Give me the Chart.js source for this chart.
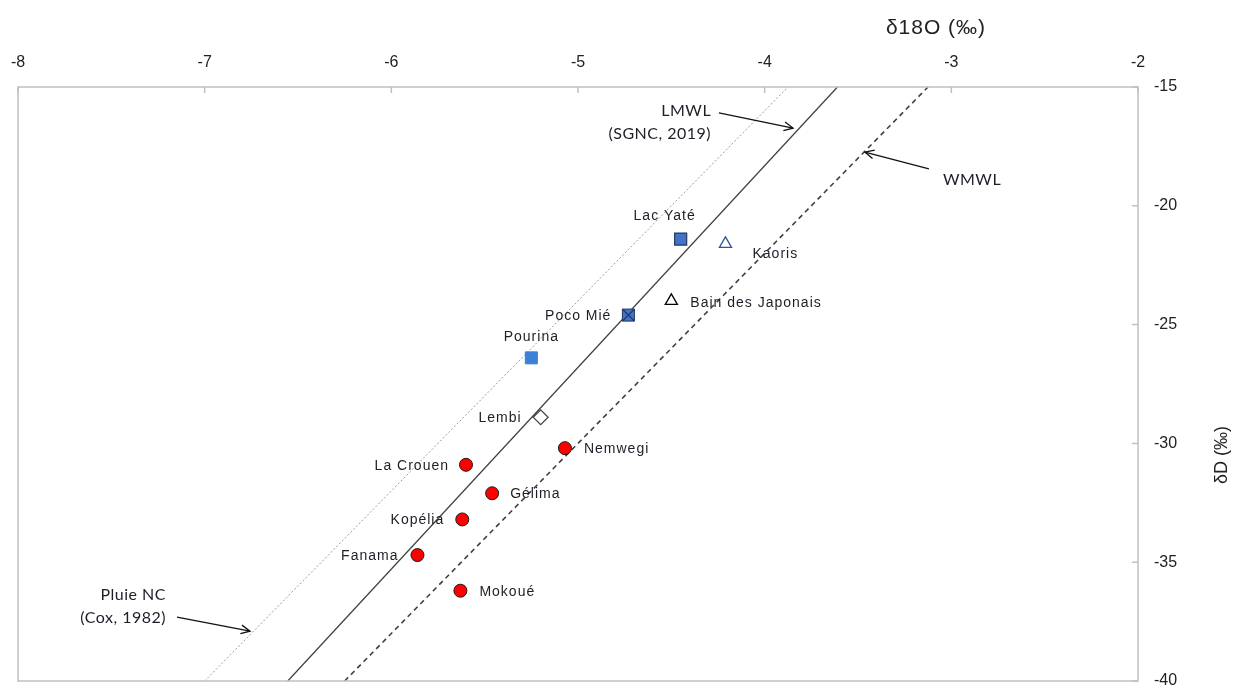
<!DOCTYPE html>
<html>
<head>
<meta charset="utf-8">
<script src="https://cdn.jsdelivr.net/npm/chart.js@4"></script>
<style>
  html, body { margin: 0; padding: 0; background: #ffffff; }
  #wrap { width: 1236px; height: 688px; position: relative; }
</style>
</head>
<body>
<div id="wrap"><canvas id="c" width="1236" height="688"></canvas></div>
<script>
// ---------------- DATA ----------------
const sites   = ['Lac Yaté', 'Kaoris', 'Bain des Japonais', 'Poco Mié', 'Pourina', 'Lembi',
                 'Nemwegi', 'La Crouen', 'Gélima', 'Kopélia', 'Fanama', 'Mokoué'];
const d18O    = [-4.45, -4.21, -4.50, -4.73, -5.25, -5.20, -5.07, -5.60, -5.46, -5.62, -5.86, -5.63];
const dD      = [-21.4, -21.6, -24.0, -24.6, -26.4, -28.9, -30.2, -30.9, -32.1, -33.2, -34.7, -36.2];
const markerGroup = ['lacYate', 'kaoris', 'bain', 'poco', 'pourina', 'lembi',
                     'spring', 'spring', 'spring', 'spring', 'spring', 'spring'];

// reference water lines: dD = slope * d18O + intercept
const lineNames      = ['Pluie NC (Cox, 1982)', 'LMWL (SGNC, 2019)', 'WMWL'];
const lineSlopes     = [8, 8.49, 8];
const lineIntercepts = [16, 15.65, 10];

const xTicks = [-8, -7, -6, -5, -4, -3, -2];
const yTicks = [-40, -35, -30, -25, -20, -15];

// ---------------- BUILD ----------------
const X_MIN = xTicks[0], X_MAX = xTicks[xTicks.length - 1];
const Y_MIN = yTicks[0], Y_MAX = yTicks[yTicks.length - 1];

function pts(group) {
  const out = [];
  sites.forEach((s, i) => { if (markerGroup[i] === group) out.push({ x: d18O[i], y: dD[i], name: s }); });
  return out;
}
function linePts(k) {
  const m = lineSlopes[k], b = lineIntercepts[k];
  return [{ x: (Y_MIN - b) / m, y: Y_MIN }, { x: (Y_MAX - b) / m, y: Y_MAX }];
}

const lineStyles = [
  { borderColor: '#9a9a9a', borderWidth: 1, borderDash: [2, 2] },
  { borderColor: '#404040', borderWidth: 1.3, borderDash: [] },
  { borderColor: '#404040', borderWidth: 1.6, borderDash: [5, 4] }
];

const datasets = [
  { label: 'crossPoco', data: pts('poco'), pointStyle: 'crossRot', pointRadius: 8.5, borderColor: '#1f3864', borderWidth: 1.3, backgroundColor: 'rgba(0,0,0,0)', order: 0 },
  { label: 'Poco Mié', data: pts('poco'), pointStyle: 'rect', pointRadius: 8.5, backgroundColor: '#4472c4', borderColor: '#1f3864', borderWidth: 1, order: 1 },
  { label: 'Lac Yaté', data: pts('lacYate'), pointStyle: 'rect', pointRadius: 8.5, backgroundColor: '#4472c4', borderColor: '#1f3864', borderWidth: 1.2, order: 1 },
  { label: 'Pourina', data: pts('pourina'), pointStyle: 'rect', pointRadius: 8.5, backgroundColor: '#3f7fd6', borderColor: '#3f7fd6', borderWidth: 1, order: 1 },
  { label: 'Kaoris', data: pts('kaoris'), pointStyle: 'triangle', pointRadius: 7, backgroundColor: '#ffffff', borderColor: '#2f5597', borderWidth: 1.3, order: 1 },
  { label: 'Bain', data: pts('bain'), pointStyle: 'triangle', pointRadius: 7, backgroundColor: '#ffffff', borderColor: '#000000', borderWidth: 1.3, order: 1 },
  { label: 'Lembi', data: pts('lembi'), pointStyle: 'rectRot', pointRadius: 7.5, backgroundColor: '#ffffff', borderColor: '#404040', borderWidth: 1.2, order: 1 },
  { label: 'Sources', data: pts('spring'), pointStyle: 'circle', pointRadius: 6.5, backgroundColor: '#ff0000', borderColor: '#1a1a1a', borderWidth: 1, order: 1 }
];
lineNames.forEach((n, k) => {
  datasets.push(Object.assign({
    type: 'line', label: n, data: linePts(k), showLine: true, pointRadius: 0, fill: false, order: 5
  }, lineStyles[k]));
});

// label placement (pixel offsets from point)
const labelPlacement = {
  'Lac Yaté': [-16, -23, 'center'],
  'Kaoris': [27, 10, 'left'],
  'Bain des Japonais': [19, 2, 'left'],
  'Poco Mié': [-18, 1, 'right'],
  'Pourina': [0, -21, 'center'],
  'Lembi': [-20, 1, 'right'],
  'Nemwegi': [19, 1, 'left'],
  'La Crouen': [-18, 1, 'right'],
  'Gélima': [18, 1, 'left'],
  'Kopélia': [-19, 1, 'right'],
  'Fanama': [-20, 1, 'right'],
  'Mokoué': [19, 1, 'left']
};

// annotations in data units
const annotations = [
  { lines: ['LMWL', '(SGNC, 2019)'], x: -4.287, y: -16.01, align: 'right', arrow: [-4.245, -16.09, -3.848, -16.73] },
  { lines: ['WMWL'], x: -3.045, y: -18.91, align: 'left', arrow: [-3.120, -18.45, -3.463, -17.74] },
  { lines: ['Pluie NC', '(Cox, 1982)'], x: -7.207, y: -36.38, align: 'right', arrow: [-7.148, -37.31, -6.757, -37.90] }
];

const decor = {
  id: 'decor',
  afterDraw(chart) {
    const ctx = chart.ctx, a = chart.chartArea;
    const xs = chart.scales.x, ys = chart.scales.y;
    ctx.save();
    // frame
    ctx.strokeStyle = '#c0c0c0';
    ctx.lineWidth = 1.5;
    ctx.strokeRect(a.left, a.top, a.right - a.left, a.bottom - a.top);
    // inward ticks
    ctx.beginPath();
    xTicks.forEach(v => { const px = xs.getPixelForValue(v); ctx.moveTo(px, a.top); ctx.lineTo(px, a.top + 6); });
    yTicks.forEach(v => { const py = ys.getPixelForValue(v); ctx.moveTo(a.right, py); ctx.lineTo(a.right - 6, py); });
    ctx.stroke();

    // y tick labels (right side)
    ctx.fillStyle = '#222';
    ctx.font = '16px "Liberation Sans", Arial, sans-serif';
    ctx.textAlign = 'left';
    ctx.textBaseline = 'middle';
    yTicks.forEach(v => ctx.fillText(String(v), a.right + 16, ys.getPixelForValue(v)));

    // axis titles
    ctx.textAlign = 'center';
    ctx.font = '21px "Liberation Sans", Arial, sans-serif';
    ctx.letterSpacing = '1px';
    ctx.fillText('δ18O (‰)', 936, 28);
    ctx.font = '18px "Liberation Sans", Arial, sans-serif';
    ctx.letterSpacing = '0px';
    ctx.save();
    ctx.translate(1222, 455);
    ctx.rotate(-Math.PI / 2);
    ctx.fillText('δD (‰)', 0, 0);
    ctx.restore();

    // point labels
    ctx.font = '14px "Liberation Sans", Arial, sans-serif';
    ctx.letterSpacing = '1px';
    ctx.fillStyle = '#1e1e28';
    ctx.textBaseline = 'middle';
    sites.forEach((s, i) => {
      const p = labelPlacement[s];
      const px = xs.getPixelForValue(d18O[i]) + p[0];
      const py = ys.getPixelForValue(dD[i]) + p[1];
      ctx.textAlign = p[2];
      ctx.fillText(s, p[2] === 'right' ? px + 1 : px, py);
    });

    // annotations
    ctx.font = '16px Lato, "Open Sans", sans-serif';
    ctx.letterSpacing = '0.5px';
    annotations.forEach(an => {
      const px = xs.getPixelForValue(an.x), py = ys.getPixelForValue(an.y);
      ctx.textAlign = an.align;
      an.lines.forEach((t, j) => ctx.fillText(t, px, py + j * 23));
      const x1 = xs.getPixelForValue(an.arrow[0]), y1 = ys.getPixelForValue(an.arrow[1]);
      const x2 = xs.getPixelForValue(an.arrow[2]), y2 = ys.getPixelForValue(an.arrow[3]);
      ctx.strokeStyle = '#111';
      ctx.lineWidth = 1.3;
      ctx.beginPath(); ctx.moveTo(x1, y1); ctx.lineTo(x2, y2); ctx.stroke();
      const ang = Math.atan2(y2 - y1, x2 - x1), L = 10, w = 0.45;
      ctx.beginPath();
      ctx.moveTo(x2 - L * Math.cos(ang - w), y2 - L * Math.sin(ang - w));
      ctx.lineTo(x2, y2);
      ctx.lineTo(x2 - L * Math.cos(ang + w), y2 - L * Math.sin(ang + w));
      ctx.stroke();
    });
    ctx.restore();
  }
};

new Chart(document.getElementById('c'), {
  type: 'scatter',
  data: { datasets },
  options: {
    responsive: false,
    animation: false,
    devicePixelRatio: 1,
    layout: { autoPadding: false, padding: { left: 18, right: 0, top: 0, bottom: 7 } },
    plugins: { legend: { display: false }, tooltip: { enabled: false } },
    scales: {
      x: {
        type: 'linear', position: 'top', min: X_MIN, max: X_MAX,
        afterBuildTicks: s => { s.ticks = xTicks.map(v => ({ value: v })); },
        afterFit: s => { s.height = 87; s.paddingLeft = 0; s.paddingRight = 0; },
        grid: { display: false, drawTicks: false },
        border: { display: false },
        ticks: { color: '#222', font: { family: '"Liberation Sans", Arial, sans-serif', size: 16 }, padding: 15, maxRotation: 0, autoSkip: false }
      },
      y: {
        type: 'linear', position: 'right', min: Y_MIN, max: Y_MAX,
        afterBuildTicks: s => { s.ticks = yTicks.map(v => ({ value: v })); },
        afterFit: s => { s.width = 98; s.paddingTop = 0; s.paddingBottom = 0; },
        grid: { display: false, drawTicks: false },
        border: { display: false },
        ticks: { display: false }
      }
    }
  },
  plugins: [decor]
});
</script>
</body>
</html>
